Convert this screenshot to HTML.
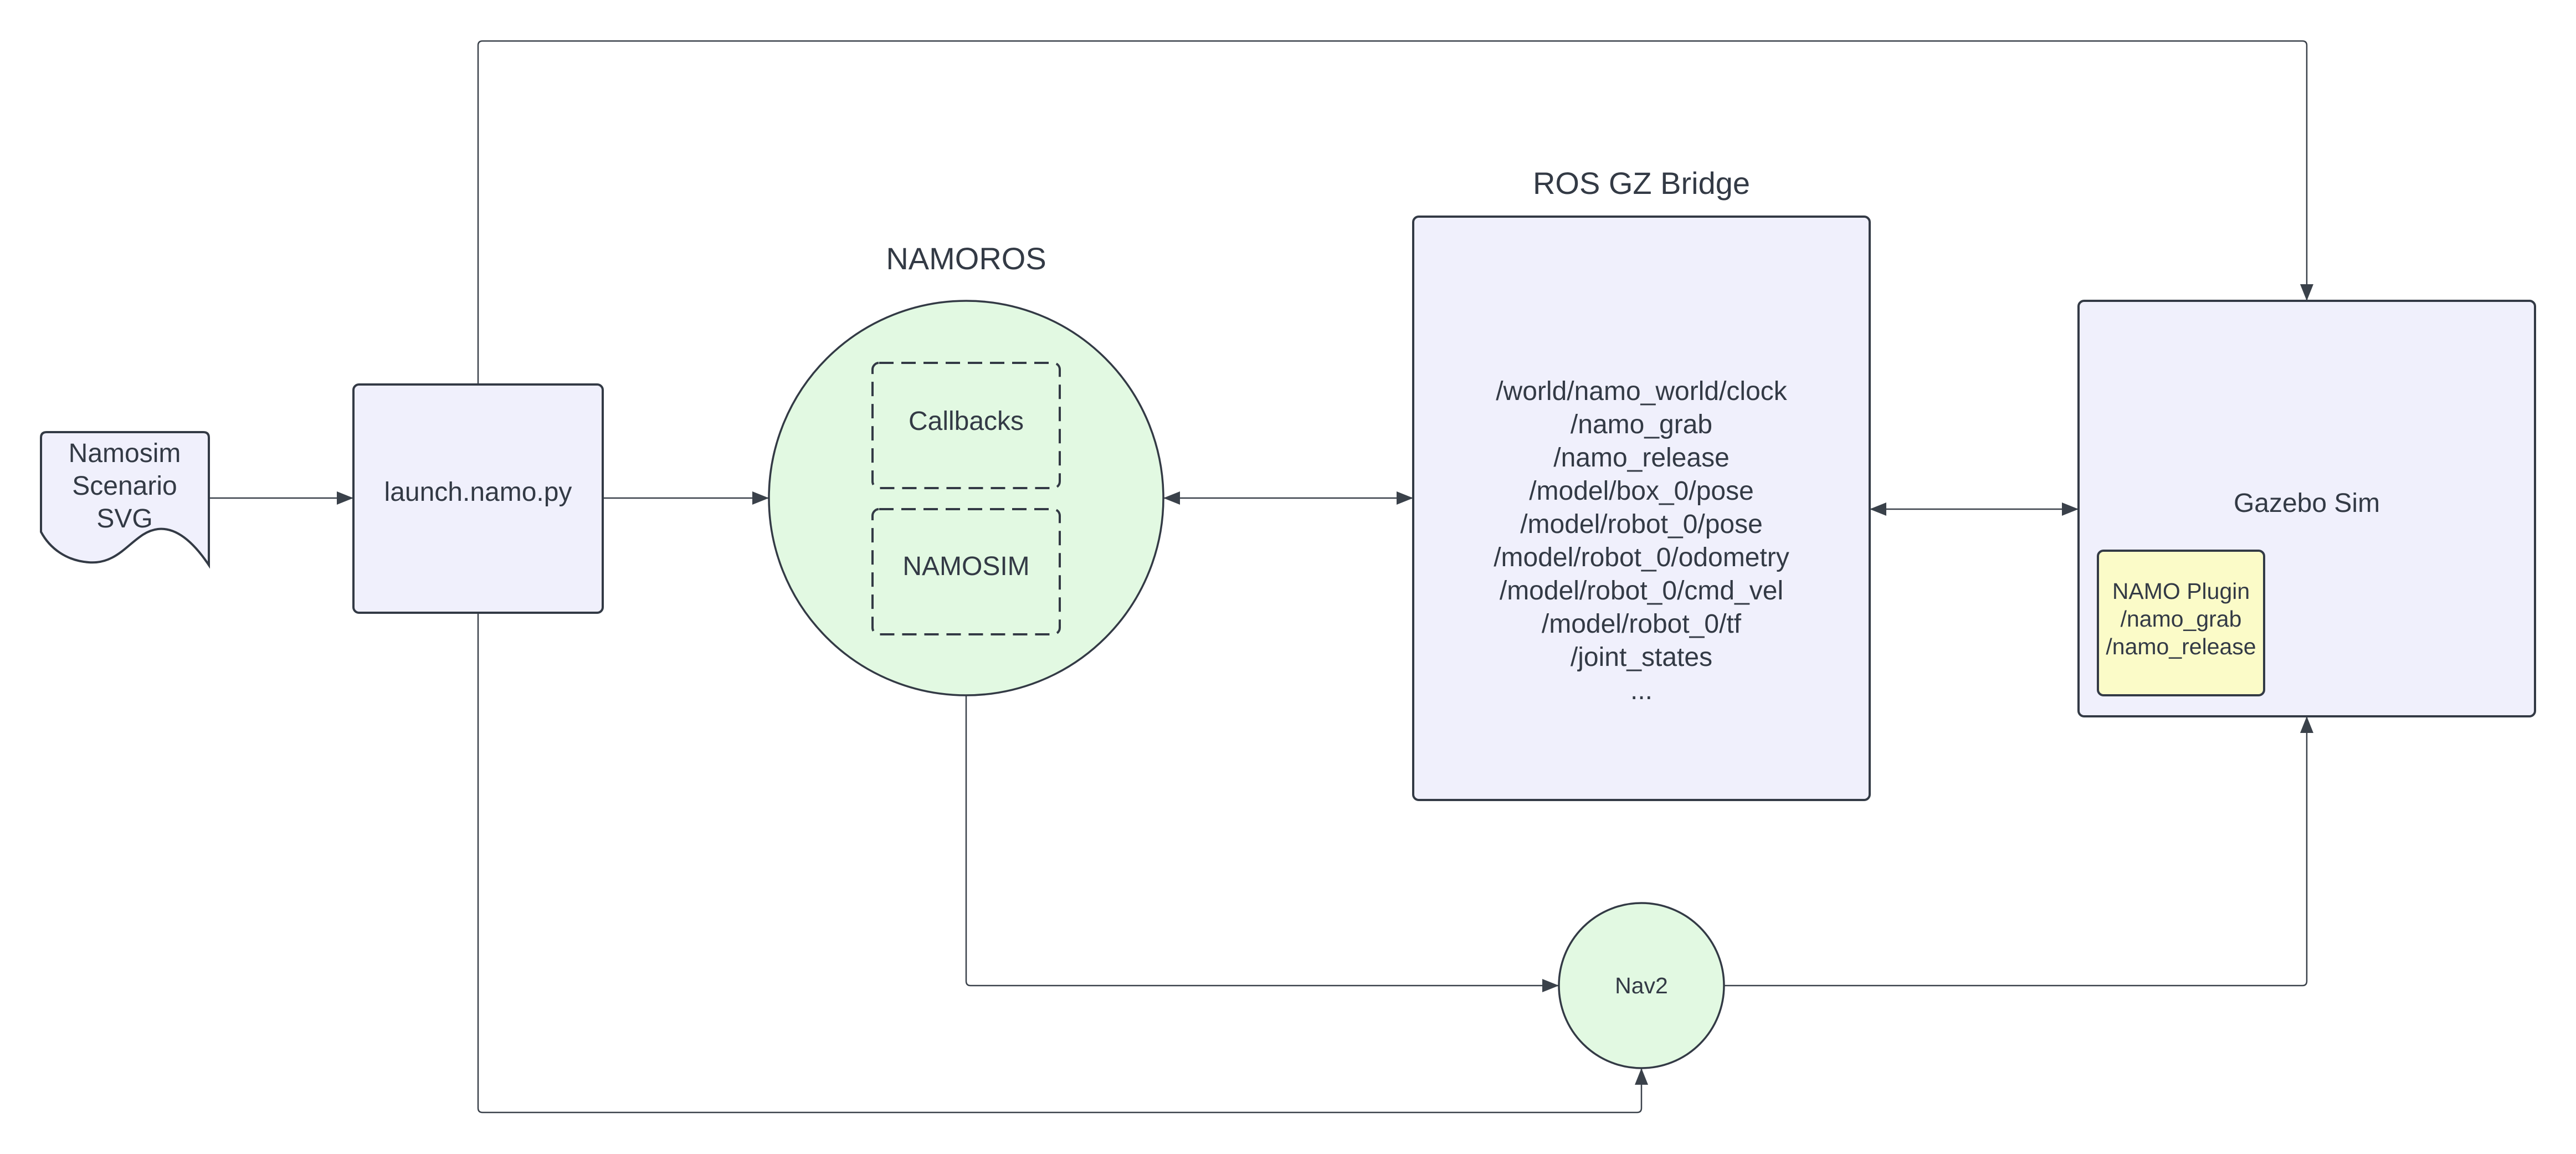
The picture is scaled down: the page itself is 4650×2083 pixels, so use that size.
<!DOCTYPE html>
<html><head><meta charset="utf-8"><style>
html,body{margin:0;padding:0;background:#fff;}
svg{display:block;}
text{font-family:"Liberation Sans",sans-serif;fill:#333a45;}
</style></head><body>
<svg width="4650" height="2083" viewBox="0 0 4650 2083" xmlns="http://www.w3.org/2000/svg">
<defs>
<marker id="a" viewBox="0 0 10 10" refX="10" refY="5" markerWidth="10" markerHeight="10" markerUnits="userSpaceOnUse" orient="auto-start-reverse">
<path d="M0,0 L10,5 L0,10 z" fill="#3a414a" transform="scale(1)"/>
</marker>
<marker id="b" viewBox="0 0 30 24" refX="30" refY="12" markerWidth="30" markerHeight="24" markerUnits="userSpaceOnUse" orient="auto-start-reverse">
<path d="M0,0 L30,12 L0,24 z" fill="#3a414a"/>
</marker>
</defs>
<g fill="none" stroke="#3a414a" stroke-width="2.5">
<!-- top connector -->
<path d="M863,694 V82 Q863,74 871,74 H4156 Q4164,74 4164,82 V543" marker-end="url(#b)"/>
<!-- bottom connector -->
<path d="M863,1106 V2000 Q863,2008 871,2008 H2955 Q2963,2008 2963,2000 V1928" marker-end="url(#b)"/>
<!-- NAMOROS to Nav2 -->
<path d="M1744,1255 V1771 Q1744,1779 1752,1779 H2814" marker-end="url(#b)"/>
<!-- Nav2 to Gazebo -->
<path d="M3112,1779 H4156 Q4164,1779 4164,1771 V1293" marker-end="url(#b)"/>
<path d="M377,899 H638" marker-end="url(#b)"/>
<path d="M1088,899 H1388" marker-end="url(#b)"/>
<path d="M2100,899 H2551" marker-start="url(#b)" marker-end="url(#b)"/>
<path d="M3375,919 H3752" marker-start="url(#b)" marker-end="url(#b)"/>
</g>
<g stroke="#333a45" stroke-width="4">
<path d="M84,780 H367 Q377,780 377,790 V1020 Q330,950 285,955 C240,960 220,1020 160,1015 C120,1012 90,990 74,960 V790 Q74,780 84,780 z" fill="#f0f0fc"/>
<rect x="638" y="694" width="450" height="412" rx="10" fill="#f0f0fc"/>
<circle cx="1744" cy="899" r="356" fill="#e2f9e2" stroke-width="3.5"/>
<rect x="2551" y="391" width="824" height="1053" rx="10" fill="#f0f0fc"/>
<rect x="3752" y="543" width="824" height="750" rx="10" fill="#f0f0fc"/>
<rect x="3787" y="994" width="300" height="261" rx="10" fill="#fbfbc8"/>
<circle cx="2963" cy="1779" r="149" fill="#e2f9e2" stroke-width="3.5"/>
<rect x="1575" y="655" width="338" height="226" rx="12" fill="none" stroke-dasharray="26,14"/>
<rect x="1575" y="919" width="338" height="226" rx="12" fill="none" stroke-dasharray="26,14"/>
</g>
<g text-anchor="middle" font-size="48">
<text x="225" y="834">Namosim</text>
<text x="225" y="893">Scenario</text>
<text x="225" y="952">SVG</text>
<text x="863" y="904">launch.namo.py</text>
<text x="1744" y="486" font-size="56">NAMOROS</text>
<text x="1744" y="776">Callbacks</text>
<text x="1744" y="1038">NAMOSIM</text>
<text x="2963" y="350" font-size="56">ROS GZ Bridge</text>
<text x="2963" y="722">/world/namo_world/clock</text>
<text x="2963" y="782">/namo_grab</text>
<text x="2963" y="842">/namo_release</text>
<text x="2963" y="902">/model/box_0/pose</text>
<text x="2963" y="962">/model/robot_0/pose</text>
<text x="2963" y="1022">/model/robot_0/odometry</text>
<text x="2963" y="1082">/model/robot_0/cmd_vel</text>
<text x="2963" y="1142">/model/robot_0/tf</text>
<text x="2963" y="1202">/joint_states</text>
<text x="2963" y="1262">...</text>
<text x="4164" y="924">Gazebo Sim</text>
<text x="3937" y="1081" font-size="41">NAMO Plugin</text>
<text x="3937" y="1131" font-size="41">/namo_grab</text>
<text x="3937" y="1181" font-size="41">/namo_release</text>
<text x="2963" y="1793" font-size="41">Nav2</text>
</g>
</svg>
</body></html>
